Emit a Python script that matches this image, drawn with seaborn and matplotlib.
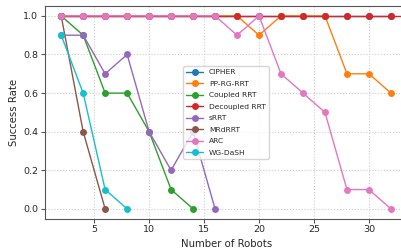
import pandas as pd
import seaborn as sns
import matplotlib.pyplot as plt

robots = [2, 4, 6, 8, 10, 12, 14, 16, 18, 20, 22, 24, 26, 28, 30, 32]

cipher = [1.0] * 16
pp_rg_rrt = [1.0, 1.0, 1.0, 1.0, 1.0, 1.0, 1.0, 1.0, 1.0, 0.9, 1.0, 1.0, 1.0, 0.7, 0.7, 0.6]
coupled_rrt = [1.0, 0.9, 0.6, 0.6, 0.4, 0.1, 0.0]
decoupled_rrt = [1.0] * 17  # runs one step past the visible area
srrt = [0.9, 0.9, 0.7, 0.8, 0.4, 0.2, 0.4, 0.0]
mrdrrt = [1.0, 0.4, 0.0]
arc = [1.0, 1.0, 1.0, 1.0, 1.0, 1.0, 1.0, 1.0, 0.9, 1.0, 0.7, 0.6, 0.5, 0.1, 0.1, 0.0]
wg_dash = [0.9, 0.6, 0.1, 0.0]

series = {
    'CIPHER': cipher,
    'PP-RG-RRT': pp_rg_rrt,
    'Coupled RRT': coupled_rrt,
    'Decoupled RRT': decoupled_rrt,
    'sRRT': srrt,
    'MRdRRT': mrdrrt,
    'ARC': arc,
    'WG-DaSH': wg_dash,
}
colors = ['tab:blue', 'tab:orange', 'tab:green', 'tab:red',
          'tab:purple', 'tab:brown', 'tab:pink', 'tab:cyan']

rows = []
for name, vals in series.items():
    for i, v in enumerate(vals):
        rows.append({'robots': 2 + 2 * i, 'rate': v, 'method': name})
df = pd.DataFrame(rows)

sns.set_style('whitegrid', {'grid.linestyle': ':', 'axes.edgecolor': '#555555',
                            'grid.color': '#cccccc'})

fig = plt.figure(figsize=(4.01, 2.5), dpi=100)
ax = fig.add_axes([0.112, 0.126, 0.904, 0.849])
sns.lineplot(data=df, x='robots', y='rate', hue='method',
             hue_order=list(series.keys()), palette=colors,
             marker='o', markersize=5, markeredgewidth=0,
             linewidth=1.0, ax=ax)

ax.set_xlim(0.52, 33.5)
ax.set_ylim(-0.05, 1.05)
ax.set_xticks([5, 10, 15, 20, 25, 30])
ax.set_yticks([0.0, 0.2, 0.4, 0.6, 0.8, 1.0])
ax.tick_params(axis='both', labelsize=6.8, length=3, width=0.8, pad=2,
               color='#555555', left=True, bottom=True)
ax.set_xlabel('Number of Robots', fontsize=7.3, labelpad=3)
ax.set_ylabel('Success Rate', fontsize=7.3, labelpad=3)
ax.legend(loc='center', fontsize=5.4, title=None, handlelength=2.2,
          labelspacing=0.7)

fig.savefig('out.png', dpi=100)
